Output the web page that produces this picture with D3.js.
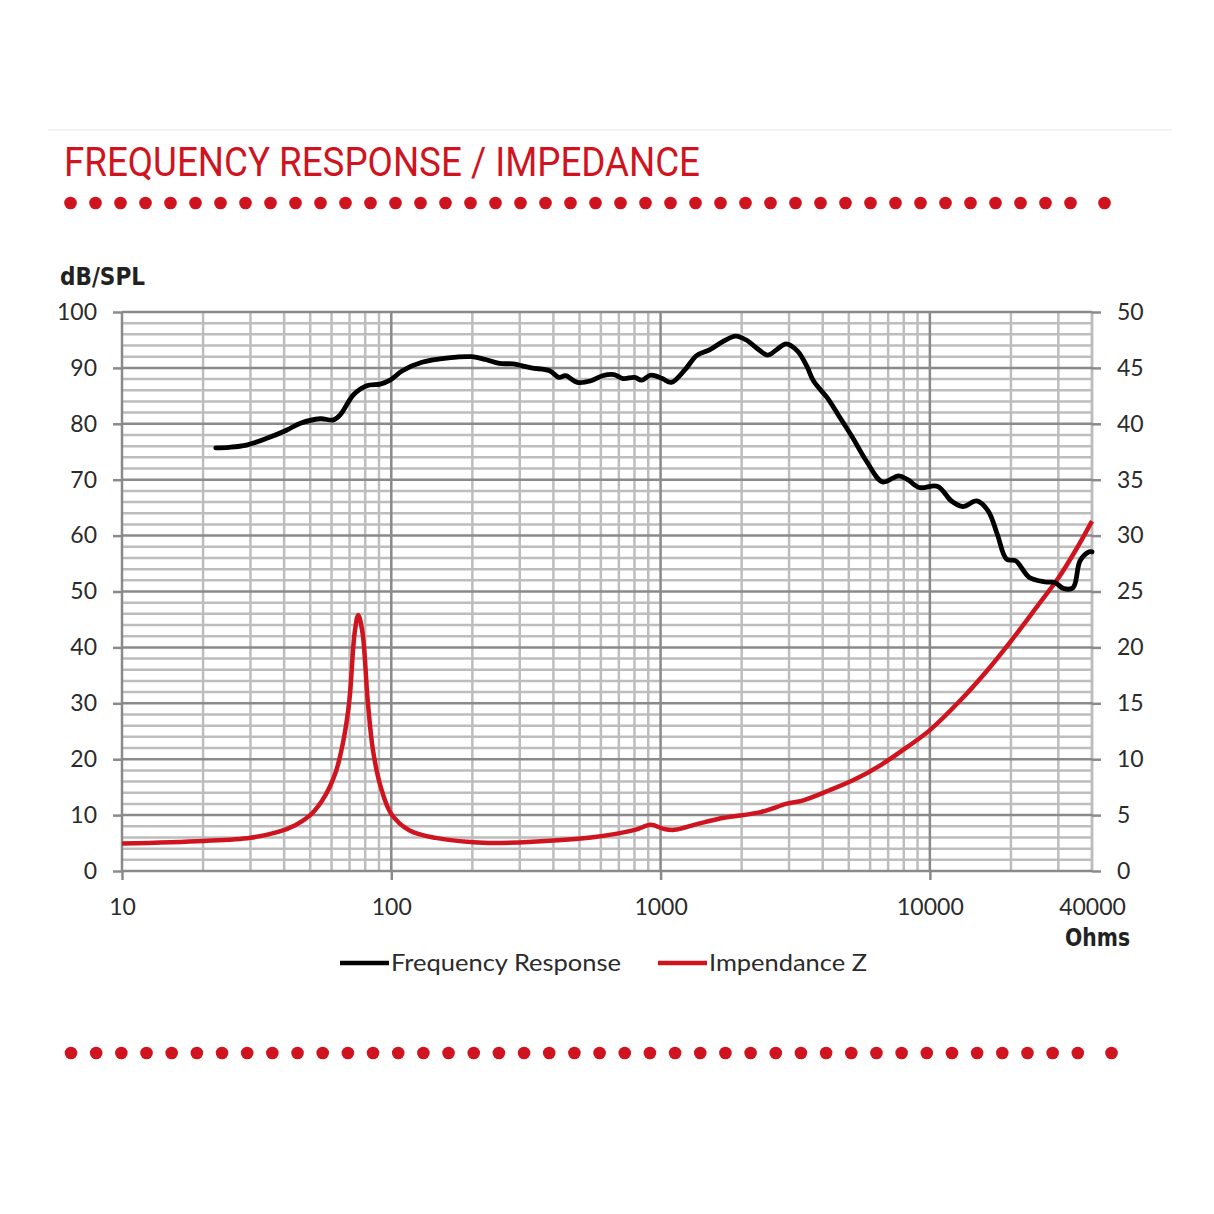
<!DOCTYPE html>
<html>
<head>
<meta charset="utf-8">
<script src="https://cdn.jsdelivr.net/npm/d3@7"></script>
<style>
  body { margin: 0; background: #fff; }
  .tick text { font-family: Lato, "Open Sans", sans-serif; font-size: 23px; fill: #2b2b2b; }
</style>
</head>
<body>
<div class="chart"></div>
<script>
// chart values
var freqFR = [22.3, 25, 29, 34.5, 41, 46, 54.5, 61, 64.6, 72.4, 81, 91, 99, 110, 130, 163, 199, 224, 252, 283,
  331, 387, 419, 444, 491, 552, 609, 671, 726, 801, 850, 919, 1014, 1096, 1233, 1361, 1531, 1689, 1900, 2096,
  2266, 2500, 2704, 2925, 3226, 3491, 3705, 4168, 4596, 5170, 5817, 6677, 7653, 8277, 9134, 10690, 12026,
  13270, 14927, 16469, 17810, 19260, 20830, 23430, 26900, 29100, 31470, 34040, 36130, 39070, 40000];
var splFR = [75.7, 75.8, 76.2, 77.4, 78.9, 80.1, 80.9, 80.7, 81.6, 85.2, 86.8, 87.1, 87.8, 89.5, 91.0, 91.8, 92.0, 91.5, 90.8, 90.7,
  90.0, 89.5, 88.3, 88.6, 87.4, 87.7, 88.6, 88.8, 88.1, 88.3, 87.8, 88.7, 88.1, 87.4, 89.7, 92.2, 93.3, 94.6, 95.7, 94.9,
  93.6, 92.3, 93.3, 94.3, 93.0, 90.3, 87.6, 84.6, 81.4, 77.5, 73.3, 69.6, 70.7, 70.0, 68.6, 68.8, 66.2,
  65.2, 66.2, 64.4, 60.2, 55.8, 55.5, 52.5, 51.7, 51.6, 50.5, 50.7, 55.5, 57.1, 57.1];

var freqZ = [10, 20, 30, 38, 44, 50, 55, 59, 62.5, 66.8, 69.9, 73.1, 75.4, 78.2, 81.7, 85.5, 91.4, 100, 117, 146, 229,
  358, 561, 803, 919, 1027, 1124, 1375, 1719, 2353, 2945, 3366, 4217, 5272, 6592, 8247, 10000, 12910, 16150,
  20200, 25270, 30000, 35000, 40000];
var ohmZ = [2.45, 2.68, 2.98, 3.5, 4.1, 5.0, 6.2, 7.5, 9.0, 12.0, 15.3, 21.3, 22.9, 21.3, 15.3, 10.8, 7.5, 5.1, 3.62, 2.96, 2.51,
  2.66, 3.02, 3.68, 4.13, 3.77, 3.68, 4.22, 4.76, 5.27, 6.02, 6.3, 7.2, 8.2, 9.5, 11.1, 12.6, 15.2, 17.8,
  20.7, 23.8, 26.2, 28.8, 31.3];

var dbTicks = [0, 10, 20, 30, 40, 50, 60, 70, 80, 90, 100];
var ohmTicks = [0, 5, 10, 15, 20, 25, 30, 35, 40, 45, 50];
var freqTicks = [10, 100, 1000, 10000, 40000];

var svgWidth = 1214;
var svgHeight = 1214;

var margin = { top: 312, left: 122 };
var width = 1092 - 122;
var height = 871 - 312;

var red = "#d0141f";

var svg = d3.select(".chart")
  .append("svg")
  .attr("width", svgWidth)
  .attr("height", svgHeight)
  .style("background", "#fff");

// faint rule at the very top
svg.append("line")
  .attr("x1", 48).attr("x2", 1172)
  .attr("y1", 130).attr("y2", 130)
  .attr("stroke", "#f2f2f2")
  .attr("stroke-width", 2);

// title
svg.append("text")
  .attr("x", 64)
  .attr("y", 176)
  .attr("textLength", 636)
  .attr("lengthAdjust", "spacingAndGlyphs")
  .style("font-family", "'Liberation Sans Narrow', 'Roboto', sans-serif")
  .style("font-size", "41px")
  .style("fill", red)
  .text("FREQUENCY RESPONSE / IMPEDANCE");

// dotted rows
function dotRow(y, x0, step, n, lastX) {
  var xs = d3.range(n).map(function(i) { return x0 + i * step; });
  xs.push(lastX);
  svg.append("g").selectAll("circle")
    .data(xs)
    .enter()
    .append("circle")
    .attr("cx", d => d)
    .attr("cy", y)
    .attr("r", 6.3)
    .attr("fill", red);
}
dotRow(203, 70.5, 25, 41, 1104.5);
dotRow(1053, 71, 25.17, 41, 1111.5);

var chartGroup = svg.append("g")
  .attr("transform", `translate(${margin.left}, ${margin.top})`);

// scales
var xScale = d3.scaleLog().domain([10, 40000]).range([0, width]);
var yScale = d3.scaleLinear().domain([0, 100]).range([height, 0]);
var zScale = d3.scaleLinear().domain([0, 50]).range([height, 0]);

// grid: vertical lines at 1..9 of each decade
var vLines = [];
[10, 100, 1000, 10000].forEach(function(dec) {
  for (var k = 1; k <= 9; k++) {
    if (dec * k <= 40000) vLines.push(dec * k);
  }
});
vLines.push(40000);
var hLines = d3.range(0, 101, 2);

var minorColor = "#bdbdbd";
var majorColor = "#8a8a8a";

chartGroup.append("g")
  .selectAll("line")
  .data(hLines.filter(d => d % 10 !== 0))
  .enter()
  .append("line")
  .attr("x1", 0).attr("x2", width)
  .attr("y1", d => yScale(d)).attr("y2", d => yScale(d))
  .attr("stroke", minorColor)
  .attr("stroke-width", 2.5);

chartGroup.append("g")
  .selectAll("line")
  .data(vLines.filter(d => freqTicks.indexOf(d) < 0 || d === 40000))
  .enter()
  .append("line")
  .attr("x1", d => xScale(d)).attr("x2", d => xScale(d))
  .attr("y1", 0).attr("y2", height)
  .attr("stroke", minorColor)
  .attr("stroke-width", 2.5);

chartGroup.append("g")
  .selectAll("line")
  .data(dbTicks)
  .enter()
  .append("line")
  .attr("x1", 0).attr("x2", width)
  .attr("y1", d => yScale(d)).attr("y2", d => yScale(d))
  .attr("stroke", majorColor)
  .attr("stroke-width", 2.5);

chartGroup.append("g")
  .selectAll("line")
  .data([10, 100, 1000, 10000])
  .enter()
  .append("line")
  .attr("x1", d => xScale(d)).attr("x2", d => xScale(d))
  .attr("y1", 0).attr("y2", height)
  .attr("stroke", majorColor)
  .attr("stroke-width", 2.5);

// axes
var leftAxis = d3.axisLeft(yScale).tickValues(dbTicks).tickSize(9).tickPadding(16);
var rightAxis = d3.axisRight(zScale).tickValues(ohmTicks).tickSize(9).tickPadding(16);
var bottomAxis = d3.axisBottom(xScale).tickValues(freqTicks).tickFormat(d3.format("d")).tickSize(9).tickPadding(19);

var yAxis = chartGroup.append("g").call(leftAxis);
var y2Axis = chartGroup.append("g").attr("transform", `translate(${width}, 0)`).call(rightAxis);
var xAxis = chartGroup.append("g").attr("transform", `translate(0, ${height})`).call(bottomAxis);

[yAxis, y2Axis, xAxis].forEach(function(a) {
  a.select(".domain").remove();
  a.selectAll(".tick line").attr("stroke", majorColor).attr("stroke-width", 2.5);
});
// no tick below the last label
xAxis.selectAll(".tick").filter(d => d === 40000).select("line").remove();

// curves
var lineFR = d3.line()
  .x((d, i) => xScale(freqFR[i]))
  .y(d => yScale(d))
  .curve(d3.curveCatmullRom.alpha(0.5));

var lineZ = d3.line()
  .x((d, i) => xScale(freqZ[i]))
  .y(d => zScale(d))
  .curve(d3.curveCatmullRom.alpha(0.5));

chartGroup.append("path")
  .datum(ohmZ)
  .attr("d", lineZ)
  .attr("fill", "none")
  .attr("stroke", red)
  .attr("stroke-width", 4.5)
  .attr("stroke-linejoin", "round");

chartGroup.append("path")
  .datum(splFR)
  .attr("d", lineFR)
  .attr("fill", "none")
  .attr("stroke", "#000")
  .attr("stroke-width", 4.8)
  .attr("stroke-linecap", "round")
  .attr("stroke-linejoin", "round");

// axis titles
svg.append("text")
  .attr("x", 60)
  .attr("y", 285)
  .attr("textLength", 85)
  .attr("lengthAdjust", "spacingAndGlyphs")
  .style("font-family", "'DejaVu Sans Condensed', 'DejaVu Sans', sans-serif")
  .style("font-weight", "bold")
  .style("font-size", "24px")
  .style("fill", "#222")
  .text("dB/SPL");

svg.append("text")
  .attr("x", 1065)
  .attr("y", 946)
  .attr("textLength", 65)
  .attr("lengthAdjust", "spacingAndGlyphs")
  .style("font-family", "'DejaVu Sans Condensed', 'DejaVu Sans', sans-serif")
  .style("font-weight", "bold")
  .style("font-size", "24px")
  .style("fill", "#222")
  .text("Ohms");

// legend
var legend = svg.append("g").attr("transform", "translate(0, 963)");
var legendItems = [
  { label: "Frequency Response", color: "#000", x: 340, w: 230 },
  { label: "Impendance Z", color: red, x: 658, w: 158 }
];
legend.selectAll("g")
  .data(legendItems)
  .enter()
  .append("g")
  .each(function(d) {
    var g = d3.select(this);
    g.append("line")
      .attr("x1", d.x).attr("x2", d.x + 49)
      .attr("y1", 0).attr("y2", 0)
      .attr("stroke", d.color)
      .attr("stroke-width", 4.5);
    g.append("text")
      .attr("x", d.x + 51)
      .attr("y", 8)
      .attr("textLength", d.w)
      .attr("lengthAdjust", "spacingAndGlyphs")
      .style("font-family", "Lato, 'Open Sans', sans-serif")
      .style("font-size", "23px")
      .style("fill", "#2b2b2b")
      .text(d.label);
  });
</script>
</body>
</html>
